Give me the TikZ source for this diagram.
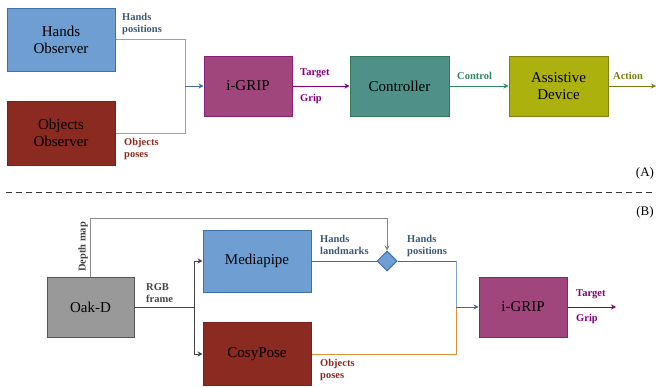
\documentclass[tikz,border=0pt]{standalone}
\usepackage{fontspec}
\setmainfont{Liberation Serif}
\usetikzlibrary{arrows.meta,shapes.geometric}
\definecolor{hbfill}{HTML}{6F9FD2}
\definecolor{hbdraw}{HTML}{3D6FA8}
\definecolor{obfill}{HTML}{8B2A20}
\definecolor{obdraw}{HTML}{7A2218}
\definecolor{igfill}{HTML}{A0467C}
\definecolor{igdraw}{HTML}{8A1F7A}
\definecolor{ctfill}{HTML}{4F9189}
\definecolor{ctdraw}{HTML}{2F7A58}
\definecolor{adfill}{HTML}{ADB10E}
\definecolor{addraw}{HTML}{7D7D10}
\definecolor{okfill}{HTML}{999999}
\definecolor{okdraw}{HTML}{555555}
\definecolor{hlabel}{HTML}{3C5878}
\definecolor{olabel}{HTML}{8B2A20}
\definecolor{hline}{HTML}{7EA6D4}
\definecolor{hdark}{HTML}{3D6AA5}
\definecolor{oline}{HTML}{E0903A}
\definecolor{pline}{HTML}{800080}
\definecolor{cline}{HTML}{2E8A5E}
\definecolor{aline}{HTML}{7A7A10}
\definecolor{gline}{HTML}{888888}
\definecolor{glabel}{HTML}{444444}
\tikzset{
  box/.style={rectangle, draw, line width=1pt, inner sep=0pt, align=center,
    font=\fontsize{15}{17}\selectfont, text=black},
  lbl/.style={inner sep=0pt, align=left, font=\bfseries\fontsize{10.5}{12}\selectfont},
  conn/.style={line width=1pt},
  arr/.style={line width=1pt, -{Stealth[length=5pt,width=5pt]}},
}
\begin{document}
\begin{tikzpicture}[x=1pt,y=-1pt]
\useasboundingbox (0,0) rectangle (656,388);
% Panel A
\node[box, fill=hbfill, draw=hbdraw, minimum width=108pt, minimum height=63pt] (ho) at (61,39.5) {Hands\\Observer};
\node[box, fill=obfill, draw=obdraw, minimum width=108pt, minimum height=64pt] (oo) at (61,133) {Objects\\Observer};
\node[box, fill=igfill, draw=igdraw, minimum width=88pt, minimum height=60pt] (ia) at (248,86) {i-GRIP};
\node[box, fill=ctfill, draw=ctdraw, minimum width=99pt, minimum height=60pt] (ct) at (399.5,86) {Controller};
\node[box, fill=adfill, draw=addraw, minimum width=99pt, minimum height=60pt] (ad) at (558.5,86) {Assistive\\Device};
\coordinate (ja) at (185,86);
\coordinate (aout) at (656,86);
\draw[conn, draw=hline] (ho.east) -| (ja);
\draw[conn, draw=oline] (oo.east) -| (ja);
\draw[arr, draw=hdark, fill=hdark] (ja) -- (ia.west);
\draw[arr, draw=pline] (ia.east) -- (ct.west);
\draw[arr, draw=cline] (ct.east) -- (ad.west);
\draw[arr, draw=aline] (ad.east) -- (aout);
\node[lbl, text=hlabel, anchor=north west] (lhp) at (122,13) {Hands\\positions};
\node[lbl, text=olabel, anchor=north west] (lop) at (124,138) {Objects\\poses};
\node[lbl, text=pline, anchor=west] (lt) at (300,73) {Target};
\node[lbl, text=pline, anchor=west] (lg) at (300,99) {Grip};
\node[lbl, text=cline, anchor=west] (lc) at (457,76) {Control};
\node[lbl, text=aline, anchor=west] (la) at (613,76) {Action};
\node[inner sep=0pt, font=\fontsize{13}{15}\selectfont] (pa) at (645,173) {(A)};
% separator
\coordinate (s1) at (6,192);
\coordinate (s2) at (656,192);
\draw[line width=0.8pt, dash pattern=on 6pt off 4pt, draw=black!80] (s1) -- (s2);
\node[inner sep=0pt, font=\fontsize{13}{15}\selectfont] (pb) at (645,212) {(B)};
% Panel B
\node[box, fill=okfill, draw=okdraw, minimum width=87pt, minimum height=60pt] (ok) at (90.5,307) {Oak-D};
\node[box, fill=hbfill, draw=hbdraw, minimum width=108pt, minimum height=62pt] (mp) at (257,261) {Mediapipe};
\node[box, fill=obfill, draw=obdraw, minimum width=108pt, minimum height=63pt] (cp) at (257,354) {CosyPose};
\node[diamond, draw=hbdraw, fill=hbfill, line width=1pt, inner sep=0pt, minimum width=20pt, minimum height=20pt] (dm) at (387,261) {};
\node[box, fill=igfill, draw=igdraw, minimum width=88pt, minimum height=60pt] (ib) at (523,307) {i-GRIP};
\coordinate (dtop) at (90.5,218);
\coordinate (jr) at (194,307);
\coordinate (jb) at (456,307);
\coordinate (bout) at (616,307);
\draw[arr, draw=gline] (ok.north) -- (dtop) -| (dm.north);
\draw[conn, draw=glabel] (ok.east) -- (jr);
\draw[arr, draw=glabel] (jr) |- (mp.west);
\draw[arr, draw=glabel] (jr) |- (cp.west);
\draw[conn, draw=hdark] (mp.east) -- (dm.west);
\draw[conn, draw=hdark] (dm.east) -| (jb);
\draw[conn, draw=hline] (456,261) -- (jb);
\draw[conn, draw=oline] (cp.east) -| (jb);
\draw[arr, draw=hdark] (jb) -- (ib.west);
\draw[arr, draw=pline] (ib.east) -- (bout);
\node[lbl, text=glabel, rotate=90, anchor=south west] (ldm) at (88,272) {Depth map};
\node[lbl, text=glabel, anchor=north west] (lrgb) at (146,283) {RGB\\frame};
\node[lbl, text=hlabel, anchor=north west] (lhl) at (320,235) {Hands\\landmarks};
\node[lbl, text=hlabel, anchor=north west] (lhp2) at (407,235) {Hands\\positions};
\node[lbl, text=olabel, anchor=north west] (lop2) at (320,359) {Objects\\poses};
\node[lbl, text=pline, anchor=west] (lt2) at (576,294) {Target};
\node[lbl, text=pline, anchor=west] (lg2) at (576,319) {Grip};
\end{tikzpicture}
\end{document}
